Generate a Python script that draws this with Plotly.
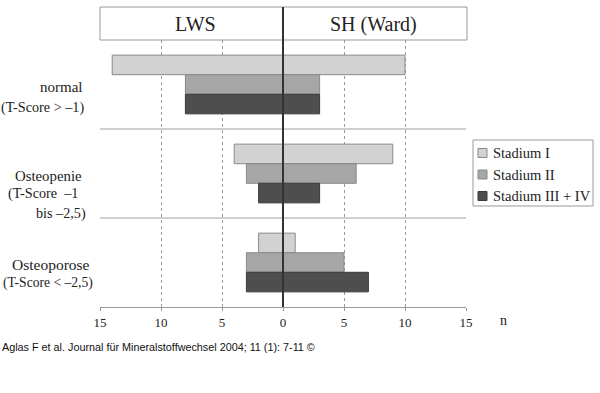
import plotly.graph_objects as go

# ---- data ----
categories = ["normal", "Osteopenie", "Osteoporose"]
stadien = ["Stadium I", "Stadium II", "Stadium III + IV"]
lws_stadium_1 = [14, 4, 2]
lws_stadium_2 = [8, 3, 3]
lws_stadium_34 = [8, 2, 3]
sh_stadium_1 = [10, 9, 1]
sh_stadium_2 = [3, 6, 5]
sh_stadium_34 = [3, 3, 7]
tick_values = [-15, -10, -5, 0, 5, 10, 15]
tick_labels = ["15", "10", "5", "0", "5", "10", "15"]
panel_titles = ["LWS", "SH (Ward)"]
caption = "Aglas F et al. Journal für Mineralstoffwechsel 2004; 11 (1): 7-11 ©"

colors = ["#d2d2d2", "#a6a6a6", "#4e4e4e"]
edge = ["#8a8a8a", "#8a8a8a", "#3a3a3a"]
SERIF = "Liberation Serif, Times New Roman, serif"

W, H = 600, 393
L, R, T, B = 100, 134, 40, 86
PW, PH = W - L - R, H - T - B


def px_x(px):
    return (px - L) / PW


def px_y(py):
    return (H - B - py) / PH


lws = [lws_stadium_1, lws_stadium_2, lws_stadium_34]
sh = [sh_stadium_1, sh_stadium_2, sh_stadium_34]
ypos = [i + 0.5 for i in range(len(categories))]
bar_w = 0.22

fig = go.Figure()
for k in range(3):
    off = -0.33 + k * bar_w
    fig.add_trace(go.Bar(
        x=[-v for v in lws[k]], y=ypos, orientation="h", width=bar_w, offset=off,
        marker=dict(color=colors[k], line=dict(color=edge[k], width=1)),
        name=stadien[k], showlegend=False))
    fig.add_trace(go.Bar(
        x=sh[k], y=ypos, orientation="h", width=bar_w, offset=off,
        marker=dict(color=colors[k], line=dict(color=edge[k], width=1)),
        name=stadien[k], showlegend=False))

shapes = []
# group separators
for i in range(1, len(categories)):
    shapes.append(dict(type="line", xref="paper", yref="y", x0=0, x1=1, y0=i, y1=i,
                       line=dict(color="#a0a0a0", width=1)))
# header box
shapes.append(dict(type="rect", xref="paper", yref="paper", x0=0, x1=px_x(467),
                   y0=1, y1=px_y(7), line=dict(color="#999999", width=1)))
# zero line
shapes.append(dict(type="line", xref="paper", yref="paper", x0=0.5, x1=0.5,
                   y0=0, y1=px_y(7), line=dict(color="#333333", width=2)))

annotations = []
for title, cx in zip(panel_titles, [195, 373]):
    annotations.append(dict(text=title, xref="paper", yref="paper", x=px_x(cx), y=px_y(24),
                            xanchor="center", yanchor="middle", showarrow=False,
                            font=dict(family=SERIF, size=20, color="#222")))

# (text, fraction within group, x pixel, anchor, size)
label_lines = [
    [("normal", 0.53, 85, "right", 15), ("(T-Score > –1)", 0.76, 86, "right", 14.2)],
    [("Osteopenie", 0.53, 84, "right", 14.8), ("(T-Score  –1", 0.73, 6, "left", 14.2),
     ("bis –2,5)", 0.95, 88, "right", 14.2)],
    [("Osteoporose", 0.52, 92, "right", 15.5), ("(T-Score < –2,5)", 0.73, 95, "right", 13.6)],
]
for gi, lines in enumerate(label_lines):
    for txt, frac, xr, anc, fs in lines:
        annotations.append(dict(text=txt, xref="paper", yref="y", x=px_x(xr), y=gi + frac,
                                xanchor=anc, yanchor="middle", showarrow=False,
                                font=dict(family=SERIF, size=fs, color="#222")))

annotations.append(dict(text="n", xref="paper", yref="paper", x=px_x(503), y=px_y(320),
                        xanchor="center", yanchor="middle", showarrow=False,
                        font=dict(family=SERIF, size=14, color="#222")))

# legend (manual)
shapes.append(dict(type="rect", xref="paper", yref="paper", x0=px_x(473), x1=px_x(593),
                   y0=px_y(206), y1=px_y(140), line=dict(color="#999999", width=1),
                   fillcolor="white"))
for k in range(3):
    cy = 153 + k * 21.5
    shapes.append(dict(type="rect", xref="paper", yref="paper", x0=px_x(478), x1=px_x(487),
                       y0=px_y(cy + 4.5), y1=px_y(cy - 4.5), fillcolor=colors[k],
                       line=dict(color=edge[k], width=1)))
    annotations.append(dict(text=stadien[k], xref="paper", yref="paper", x=px_x(491), y=px_y(cy),
                            xanchor="left", yanchor="middle", showarrow=False,
                            font=dict(family=SERIF, size=14.5, color="#222")))

annotations.append(dict(text=caption, xref="paper", yref="paper", x=px_x(0), y=px_y(347),
                        xanchor="left", yanchor="middle", showarrow=False,
                        font=dict(family="Liberation Sans Narrow, Arial Narrow, Liberation Sans, Arial, sans-serif",
                                  size=10.8, color="#111")))

fig.update_layout(
    width=W, height=H, margin=dict(l=L, r=R, t=T, b=B),
    paper_bgcolor="white", plot_bgcolor="white",
    barmode="overlay", showlegend=False,
    shapes=shapes, annotations=annotations,
    xaxis=dict(range=[-15, 15], tickvals=tick_values, ticktext=tick_labels,
               showgrid=True, gridcolor="#9a9a9a", griddash="dot", gridwidth=1,
               zeroline=False, showline=True, linecolor="#999999", linewidth=1,
               ticks="outside", ticklen=3, tickcolor="#999999",
               tickfont=dict(family=SERIF, size=13, color="#222"), fixedrange=True),
    yaxis=dict(range=[3, 0], showgrid=False, zeroline=False, showticklabels=False,
               showline=False, fixedrange=True),
)

fig.write_html("out.html", config={"displayModeBar": False},
               post_script="document.body.style.margin='0';document.body.style.overflow='hidden';")
